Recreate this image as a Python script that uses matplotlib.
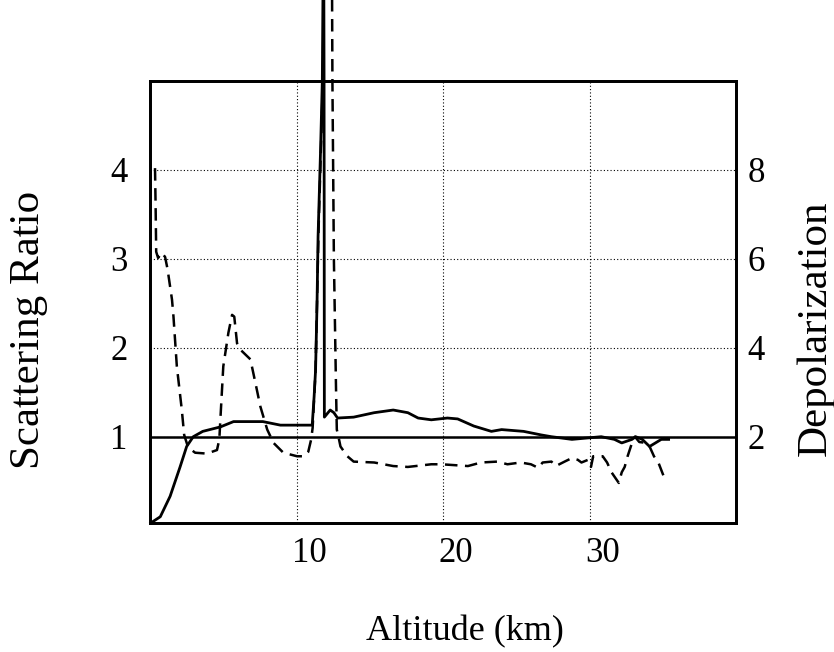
import matplotlib
matplotlib.use("Agg")
import matplotlib.pyplot as plt
import matplotlib.transforms as mtransforms

# Scattering ratio (solid line)
alt_sr = [0.05, 0.7, 1.37, 2.05, 2.5, 2.95, 3.6, 4.8, 5.7, 7.7, 8.9, 11.07,
          11.2, 11.3, 11.4, 11.47, 11.64, 11.76, 11.85, 11.88, 11.9,
          12.3, 12.55, 12.8, 13.9, 15.3, 16.6, 17.6, 18.3, 19.2, 20.3, 21.0,
          22.1, 23.3, 24.0, 25.5, 26.7, 27.4, 28.8, 30.8, 31.7, 32.2, 32.9,
          33.15, 33.6, 34.1, 34.5, 34.9, 35.4]
scat_ratio = [0.03, 0.1, 0.33, 0.66, 0.89, 1.0, 1.06, 1.11, 1.17, 1.17, 1.13, 1.13,
              1.45, 1.75, 2.5, 3.25, 4.22, 5.0, 7.0, 5.0, 1.22,
              1.3, 1.27, 1.21, 1.22, 1.27, 1.3, 1.27, 1.21, 1.19, 1.21, 1.2,
              1.12, 1.06, 1.08, 1.06, 1.02, 1.0, 0.97, 1.0, 0.97, 0.93, 0.97,
              1.0, 0.97, 0.89, 0.93, 0.97, 0.97]

# Depolarization (dashed line)
alt_dep = [0.34, 0.38, 0.42, 0.55, 0.8, 1.03, 1.2, 1.5, 1.6, 1.83, 2.17, 2.33,
           2.6, 3.08, 3.88, 4.57, 4.73, 4.8, 5.0, 5.35, 5.6, 5.75, 5.94, 6.16,
           6.85, 7.2, 7.53, 8.0, 8.43, 9.1, 10.04, 10.5, 10.8, 11.0, 11.1,
           11.3, 11.5, 11.8, 11.9, 12.4, 12.45, 12.55, 12.7, 12.75, 12.9,
           13.0, 13.47, 13.9, 15.3, 16.6, 17.6, 19.2, 19.9, 21.7, 22.6, 23.7,
           24.4, 25.3, 26.0, 26.5, 26.8, 27.4, 27.7, 28.3, 28.8, 29.2, 29.45,
           29.9, 30.1, 30.25, 30.6, 30.9, 31.2, 31.5, 32.0, 32.2, 32.4, 32.6,
           32.9, 33.1, 33.4, 33.9, 34.1, 34.4, 34.7, 35.1]
depol = [8.04, 7.2, 6.16, 6.02, 6.14, 6.04, 5.76, 5.08, 4.7, 3.58, 2.6, 2.04,
         1.76, 1.64, 1.62, 1.7, 1.94, 2.38, 3.58, 4.34, 4.74, 4.7, 4.1, 3.96,
         3.74, 3.2, 2.68, 2.16, 1.86, 1.64, 1.56, 1.56, 1.66, 1.94, 2.2,
         3.5, 6.6, 10.0, 14.0, 14.0, 10.0, 6.0, 3.0, 2.16, 1.94,
         1.78, 1.56, 1.44, 1.42, 1.34, 1.32, 1.38, 1.38, 1.34, 1.42, 1.44,
         1.38, 1.42, 1.38, 1.3, 1.42, 1.44, 1.34, 1.44, 1.52, 1.48, 1.42,
         1.48, 1.32, 1.56, 1.56, 1.56, 1.42, 1.2, 0.96, 1.2, 1.32, 1.56,
         1.86, 2.0, 1.88, 1.86, 1.78, 1.56, 1.42, 1.08]

x_ticks = [10, 20, 30]
sr_ticks = [1, 2, 3, 4]
dep_ticks = [2, 4, 6, 8]

plt.rcParams['font.family'] = ['Liberation Serif', 'DejaVu Serif']

fig = plt.figure(figsize=(8.34, 6.52), dpi=100)
ax = fig.add_axes([0.1799, 0.1979, 0.7026, 0.6779])
ax2 = ax.twinx()

ax.set_xlim(0, 40)
ax.set_ylim(0.03, 5.0)
ax2.set_ylim(0.06, 10.0)

ax.set_xticks(x_ticks)
ax.set_yticks(sr_ticks)
ax2.set_yticks(dep_ticks)
ax.tick_params(axis='x', length=0, labelsize=25, pad=10)
ax.tick_params(axis='y', length=0, labelsize=25, pad=16)
ax2.tick_params(length=0, labelsize=25, pad=8.5)

# x tick labels sit a little right of the grid lines in the reference
offset = mtransforms.ScaledTranslation(0.13, 0, fig.dpi_scale_trans)
for lbl in ax.get_xticklabels():
    lbl.set_transform(lbl.get_transform() + offset)

ax.grid(True, linestyle=(0, (1, 2)), color='black', linewidth=0.8)
ax.axhline(1.0, color='black', linewidth=1.8, zorder=3)

for a in (ax, ax2):
    for s in a.spines.values():
        s.set_linewidth(2.0)

ax.plot(alt_sr, scat_ratio, color='black', linewidth=2.0, clip_on=False, zorder=4)
ax2.plot(alt_dep, depol, color='black', linewidth=1.8, dashes=(5, 3),
         clip_on=False, zorder=4)

fig.text(465 / 834, 1 - 632 / 652, 'Altitude (km)', fontsize=26,
         ha='center', va='center')
fig.text(29 / 834, 1 - 330 / 652, 'Scattering Ratio', fontsize=31,
         rotation=90, ha='center', va='center')
fig.text(815 / 834, 1 - 328 / 652, 'Depolarization', fontsize=31,
         rotation=90, ha='center', va='center')

fig.savefig('out.png', dpi=100)
